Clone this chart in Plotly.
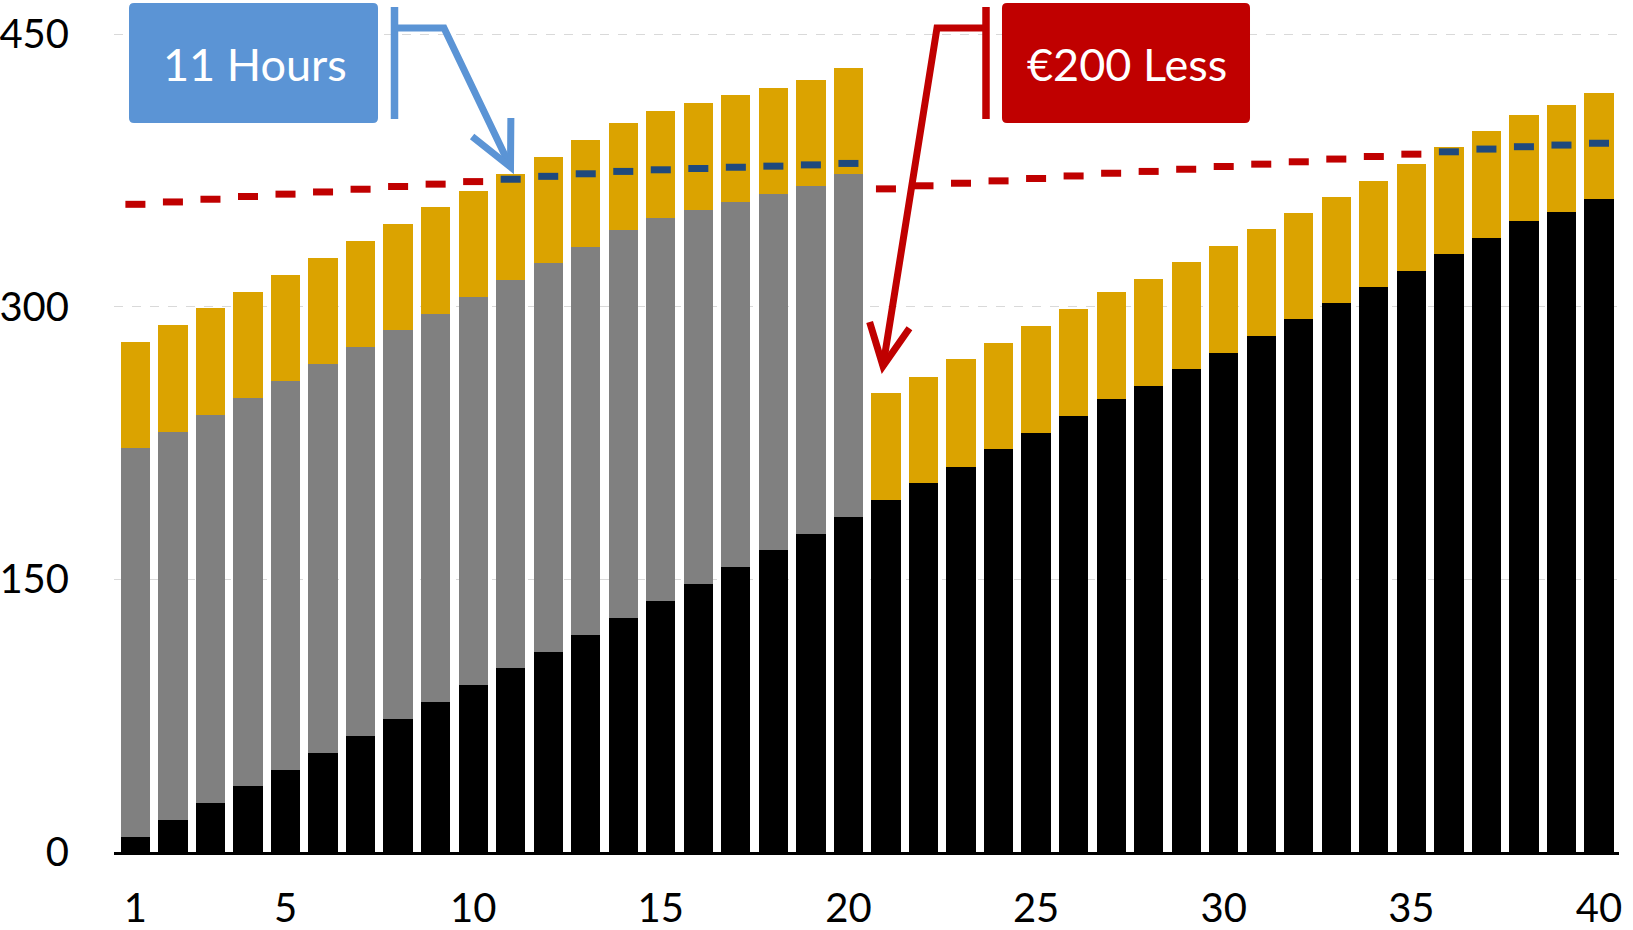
import math
import plotly.graph_objects as go

# ---------------- data ----------------
periods = list(range(1, 41))

black = [8.3, 17.5, 26.8, 36.2, 45.3, 54.5, 64.0, 73.4, 82.5, 91.7,
         101.2, 110.0, 119.5, 129.0, 138.3, 147.5, 156.7, 166.0, 175.2, 184.4,
         193.7, 203.0, 212.0, 221.5, 230.7, 240.0, 249.4, 256.7, 266.0, 274.8,
         283.9, 293.1, 302.0, 310.8, 319.8, 329.0, 338.0, 347.1, 352.1, 359.4]

gray = [213.9, 213.6, 213.8, 213.6, 213.8, 214.0, 213.8, 213.8, 213.8, 213.6,
        213.3, 213.9, 213.6, 213.3, 210.8, 205.6, 200.8, 196.0, 191.2, 188.6,
        None, None, None, None, None, None, None, None, None, None,
        None, None, None, None, None, None, None, None, None, None]

gold = [58.5, 58.7, 58.8, 58.5, 58.5, 58.6, 58.5, 58.5, 58.5, 58.5,
        58.7, 58.6, 58.8, 58.6, 58.8, 58.8, 58.9, 58.6, 58.5, 58.6,
        58.7, 58.6, 59.1, 58.6, 58.7, 58.6, 58.5, 58.5, 58.5, 58.6,
        58.7, 58.5, 58.6, 58.7, 58.7, 58.7, 58.5, 58.5, 58.7, 58.3]

target = [356.4, 357.7, 359.2, 360.7, 362.0, 363.2, 364.7, 366.2, 367.5, 368.9,
          370.2, 371.8, 373.2, 374.5, 375.4, 376.1, 376.8, 377.4, 378.1, 378.9,
          364.9, 366.6, 368.0, 369.3, 370.6, 372.0, 373.5, 374.5, 375.7, 377.2,
          378.5, 379.8, 381.3, 382.7, 384.0, 385.3, 386.8, 388.1, 389.0, 390.0]

x_ticks = [1, 5, 10, 15, 20, 25, 30, 35, 40]
y_ticks = [0, 150, 300, 450]

label_hours = "11 Hours"
label_less = "€200 Less"

# ---------------- styling ----------------
C_BLACK = "#000000"
C_GRAY = "#808080"
C_GOLD = "#DBA300"
C_RED = "#C00000"
C_NAVY = "#1F497D"
C_BLUE_BOX = "#5B94D5"
FONT = "Lato"

totals = [b + (g or 0) + y for b, g, y in zip(black, gray, gold)]
red_pts = [t if t >= tot else None for t, tot in zip(target, totals)]
blue_pts = [t if t < tot else None for t, tot in zip(target, totals)]

fig = go.Figure()
fig.add_bar(x=periods, y=black, marker=dict(color=C_BLACK, line=dict(width=0)))
fig.add_bar(x=periods, y=gray, marker=dict(color=C_GRAY, line=dict(width=0)))
fig.add_bar(x=periods, y=gold, marker=dict(color=C_GOLD, line=dict(width=0)))
fig.add_scatter(x=periods, y=red_pts, mode="markers",
                marker=dict(symbol="line-ew", size=14.3,
                            line=dict(color=C_RED, width=7)))
fig.add_scatter(x=periods, y=blue_pts, mode="markers",
                marker=dict(symbol="line-ew", size=14.3,
                            line=dict(color=C_NAVY, width=7)))

# ---------------- layout geometry ----------------
W, H = 1633, 930
L, R, T, B = 114, 14, 0, 78
PW, PH = W - L - R, H - T - B
bottom_px = H - B


def pp(px, py):
    return ((px - L) / PW, (bottom_px - py) / PH)


def path(points):
    s = ""
    for i, (px, py) in enumerate(points):
        x, y = pp(px, py)
        s += ("M" if i == 0 else "L") + f"{x:.5f},{y:.5f} "
    return s.strip()


def rounded_box(x0, y0, x1, y1, r):
    def P(px, py):
        x, y = pp(px, py)
        return f"{x:.5f},{y:.5f}"
    s = f"M{P(x0 + r, y0)} L{P(x1 - r, y0)} Q{P(x1, y0)} {P(x1, y0 + r)} "
    s += f"L{P(x1, y1 - r)} Q{P(x1, y1)} {P(x1 - r, y1)} "
    s += f"L{P(x0 + r, y1)} Q{P(x0, y1)} {P(x0, y1 - r)} "
    s += f"L{P(x0, y0 + r)} Q{P(x0, y0)} {P(x0 + r, y0)} Z"
    return s


def arm_points(tail, tip, ang_deg, length):
    dx, dy = tail[0] - tip[0], tail[1] - tip[1]
    n = math.hypot(dx, dy)
    ux, uy = dx / n, dy / n
    out = []
    for s in (1, -1):
        a = math.radians(ang_deg) * s
        rx = ux * math.cos(a) - uy * math.sin(a)
        ry = ux * math.sin(a) + uy * math.cos(a)
        out.append((tip[0] + rx * length, tip[1] + ry * length))
    return out


shapes = []
# blue callout
shapes.append(dict(type="path", xref="paper", yref="paper",
                   path=rounded_box(129, 3, 378, 123, 5),
                   fillcolor=C_BLUE_BOX, line=dict(width=0), layer="above"))
shapes.append(dict(type="path", xref="paper", yref="paper",
                   path=path([(394.5, 7), (394.5, 119)]),
                   line=dict(color=C_BLUE_BOX, width=7.5), layer="above"))
b_tail, b_corner, b_tip = (394.5, 28), (444, 28), (510.5, 167)
shapes.append(dict(type="path", xref="paper", yref="paper",
                   path=path([b_tail, b_corner, b_tip]),
                   line=dict(color=C_BLUE_BOX, width=7), layer="above"))
a1, a2 = arm_points(b_corner, b_tip, 26, 49)
shapes.append(dict(type="path", xref="paper", yref="paper",
                   path=path([a1, b_tip, a2]),
                   line=dict(color=C_BLUE_BOX, width=7), layer="above"))

# red callout
shapes.append(dict(type="path", xref="paper", yref="paper",
                   path=rounded_box(1002, 3, 1250, 123, 5),
                   fillcolor=C_RED, line=dict(width=0), layer="above"))
shapes.append(dict(type="path", xref="paper", yref="paper",
                   path=path([(986, 7), (986, 119)]),
                   line=dict(color=C_RED, width=7.5), layer="above"))
r_tail, r_corner, r_tip = (986, 28), (937, 28), (883, 366)
shapes.append(dict(type="path", xref="paper", yref="paper",
                   path=path([r_tail, r_corner, r_tip]),
                   line=dict(color=C_RED, width=7), layer="above"))
a1, a2 = arm_points(r_corner, r_tip, 26, 46)
shapes.append(dict(type="path", xref="paper", yref="paper",
                   path=path([a1, r_tip, a2]),
                   line=dict(color=C_RED, width=7), layer="above"))

hx, hy = pp(255, 64)
lx, ly = pp(1127, 64)
annotations = [
    dict(x=hx, y=hy, xref="paper", yref="paper", text=label_hours, showarrow=False,
         xanchor="center", yanchor="middle",
         font=dict(family=FONT, size=45, color="white")),
    dict(x=lx, y=ly, xref="paper", yref="paper", text=label_less, showarrow=False,
         xanchor="center", yanchor="middle",
         font=dict(family=FONT, size=45, color="white")),
]

bar_px = 37.53
x0 = 1 - (135.4 - L) / bar_px
x1 = 40 + (W - R - 1599) / bar_px
y_max = PH / 1.8173

fig.update_layout(
    width=W, height=H,
    margin=dict(l=L, r=R, t=T, b=B, pad=0, autoexpand=False),
    barmode="stack", bargap=0.22,
    showlegend=False,
    plot_bgcolor="white", paper_bgcolor="white",
    font=dict(family=FONT, size=40, color="black"),
    shapes=shapes, annotations=annotations,
    xaxis=dict(range=[x0, x1], tickmode="array", tickvals=x_ticks,
               ticktext=[str(v) for v in x_ticks], showgrid=False,
               showline=True, linecolor="black", linewidth=2.5,
               ticks="", ticklabelstandoff=19, zeroline=False,
               automargin=False,
               tickfont=dict(family=FONT, size=40, color="black")),
    yaxis=dict(range=[0, y_max], tickmode="array", tickvals=y_ticks,
               ticktext=[str(v) for v in y_ticks], showgrid=True,
               gridcolor="#D9D9D9", gridwidth=1, griddash="dash",
               zeroline=False, showline=False, ticks="",
               ticklabelstandoff=44, automargin=False,
               tickfont=dict(family=FONT, size=40, color="black")),
)

fig.write_html(
    "out.html",
    config={"displayModeBar": False},
    post_script="document.body.style.margin='0';document.body.style.overflow='hidden';",
)
